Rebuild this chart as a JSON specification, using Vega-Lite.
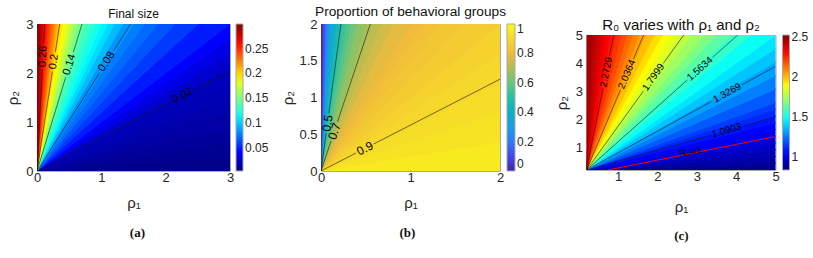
{
"$schema": "https://vega.github.io/schema/vega-lite/v6.json",
"padding": {"left": 5, "top": 4, "right": 0, "bottom": 0},
"spacing": 10,
"resolve": {"scale": {"color": "independent", "stroke": "independent"}, "legend": {"color": "independent", "stroke": "independent"}},
"config": {
  "font": "Liberation Sans",
  "view": {"stroke": "#a8a8a8", "strokeWidth": 1},
  "axis": {"domain": false, "ticks": false, "grid": false, "labelFontSize": 13, "labelColor": "#262626", "titleFontSize": 15, "titleFontWeight": "normal", "titleColor": "#262626", "labelFlush": false, "labelPadding": 4, "format": "~g"},
  "axisX": {"labelPadding": 0},
  "legend": {"gradientThickness": 7, "labelFontSize": 12, "labelColor": "#262626", "gradientStrokeColor": "#a8a8a8", "gradientStrokeWidth": 1, "padding": 0, "labelOffset": 3, "labelOverlap": false},
  "title": {"fontWeight": "normal", "color": "#111111", "anchor": "middle"}
},
"datasets": {
"wa": [
{"w":1,"x":0,"y":0,"y2":0,"v":0.0044},{"w":1,"x":10,"y":0,"y2":1,"v":0.0044},
{"w":2,"x":0,"y":0,"y2":0,"v":0.0072},{"w":2,"x":10,"y":1,"y2":2,"v":0.0072},
{"w":3,"x":0,"y":0,"y2":0,"v":0.0100},{"w":3,"x":10,"y":2,"y2":3,"v":0.0100},
{"w":4,"x":0,"y":0,"y2":0,"v":0.0126},{"w":4,"x":10,"y":3,"y2":4,"v":0.0126},
{"w":5,"x":0,"y":0,"y2":0,"v":0.0150},{"w":5,"x":10,"y":4,"y2":5,"v":0.0150},
{"w":6,"x":0,"y":0,"y2":0,"v":0.0173},{"w":6,"x":10,"y":5,"y2":6,"v":0.0173},
{"w":7,"x":0,"y":0,"y2":0,"v":0.0194},{"w":7,"x":10,"y":6,"y2":7,"v":0.0194},
{"w":8,"x":0,"y":0,"y2":0,"v":0.0254},{"w":8,"x":10,"y":7,"y2":8,"v":0.0254},
{"w":9,"x":0,"y":0,"y2":0,"v":0.0324},{"w":9,"x":10,"y":8,"y2":9,"v":0.0324},
{"w":10,"x":0,"y":0,"y2":0,"v":0.0387},{"w":10,"x":10,"y":9,"y2":10,"v":0.0387},
{"w":11,"x":0,"y":0,"y2":0,"v":0.0472},{"w":11,"x":10,"y":10,"y2":12,"v":0.0472},
{"w":12,"x":0,"y":0,"y2":0,"v":0.0566},{"w":12,"x":10,"y":12,"y2":14,"v":0.0566},
{"w":13,"x":0,"y":0,"y2":0,"v":0.0644},{"w":13,"x":10,"y":14,"y2":16,"v":0.0644},
{"w":14,"x":0,"y":0,"y2":0,"v":0.0708},{"w":14,"x":10,"y":16,"y2":18,"v":0.0708},
{"w":15,"x":0,"y":0,"y2":0,"v":0.0763},{"w":15,"x":10,"y":18,"y2":20,"v":0.0763},
{"w":16,"x":0,"y":0,"y2":0,"v":0.0833},{"w":16,"x":10,"y":20,"y2":22.5,"v":0.0833},
{"w":17,"x":0,"y":0,"y2":0,"v":0.0944},{"w":17,"x":10,"y":22.5,"y2":25,"v":0.0944},
{"w":18,"x":0,"y":0,"y2":0,"v":0.1037},{"w":18,"x":10,"y":25,"y2":27.5,"v":0.1037},
{"w":19,"x":0,"y":0,"y2":0,"v":0.1115},{"w":19,"x":10,"y":27.5,"y2":30,"v":0.1115},
{"w":20,"x":0,"y":0,"y2":0,"v":0.1189},{"w":20,"x":10,"y":30,"y2":33,"v":0.1189},
{"w":21,"x":0,"y":0,"y2":0,"v":0.1257},{"w":21,"x":10,"y":33,"y2":36,"v":0.1257},
{"w":22,"x":0,"y":0,"y2":0,"v":0.1323},{"w":22,"x":10,"y":36,"y2":40,"v":0.1323},
{"w":23,"x":0,"y":0,"y2":0,"v":0.1386},{"w":23,"x":10,"y":40,"y2":44,"v":0.1386},
{"w":24,"x":0,"y":0,"y2":0,"v":0.1479},{"w":24,"x":10,"y":44,"y2":48,"v":0.1479},
{"w":25,"x":0,"y":0,"y2":0,"v":0.1578},{"w":25,"x":10,"y":48,"y2":53,"v":0.1578},
{"w":26,"x":0,"y":0,"y2":0,"v":0.1671},{"w":26,"x":10,"y":53,"y2":58,"v":0.1671},
{"w":27,"x":0,"y":0,"y2":0,"v":0.1755},{"w":27,"x":10,"y":58,"y2":64,"v":0.1755},
{"w":28,"x":0,"y":0,"y2":0,"v":0.1832},{"w":28,"x":10,"y":64,"y2":70,"v":0.1832},
{"w":29,"x":0,"y":0,"y2":0,"v":0.1902},{"w":29,"x":10,"y":70,"y2":77,"v":0.1902},
{"w":30,"x":0,"y":0,"y2":0,"v":0.1968},{"w":30,"x":10,"y":77,"y2":85,"v":0.1968},
{"w":31,"x":0,"y":0,"y2":0,"v":0.2049},{"w":31,"x":10,"y":85,"y2":95,"v":0.2049},
{"w":32,"x":0,"y":0,"y2":0,"v":0.2135},{"w":32,"x":10,"y":95,"y2":105,"v":0.2135},
{"w":33,"x":0,"y":0,"y2":0,"v":0.2221},{"w":33,"x":10,"y":105,"y2":120,"v":0.2221},
{"w":34,"x":0,"y":0,"y2":0,"v":0.2314},{"w":34,"x":10,"y":120,"y2":140,"v":0.2314},
{"w":35,"x":0,"y":0,"y2":0,"v":0.2394},{"w":35,"x":10,"y":140,"y2":160,"v":0.2394},
{"w":36,"x":0,"y":0,"y2":0,"v":0.2468},{"w":36,"x":10,"y":160,"y2":190,"v":0.2468},
{"w":37,"x":0,"y":0,"y2":0,"v":0.2541},{"w":37,"x":10,"y":190,"y2":230,"v":0.2541},
{"w":38,"x":0,"y":0,"y2":0,"v":0.2609},{"w":38,"x":10,"y":230,"y2":280,"v":0.2609},
{"w":39,"x":0,"y":0,"y2":0,"v":0.2684},{"w":39,"x":10,"y":280,"y2":350,"v":0.2684},
{"w":40,"x":0,"y":0,"y2":0,"v":0.2764},{"w":40,"x":10,"y":350,"y2":500,"v":0.2764},
{"w":41,"x":0,"y":0,"y2":0,"v":0.2842},{"w":41,"x":10,"y":500,"y2":800,"v":0.2842},
{"w":42,"x":0,"y":0,"y2":0,"v":0.2944},{"w":42,"x":10,"y":800,"y2":10000,"v":0.2944}
],
"la": [
{"p":"a26a","x":0,"y":0},{"p":"a26a","x":0.083,"y":2.074},
{"p":"a26b","x":0.104,"y":2.606},{"p":"a26b","x":0.12,"y":3},
{"p":"a20a","x":0,"y":0},{"p":"a20a","x":0.2386,"y":2.0275},
{"p":"a20b","x":0.2862,"y":2.4325},{"p":"a20b","x":0.3529,"y":3},
{"p":"a14a","x":0,"y":0},{"p":"a14a","x":0.4464,"y":1.915},
{"p":"a14b","x":0.5652,"y":2.425},{"p":"a14b","x":0.6993,"y":3},
{"p":"a08a","x":0,"y":0},{"p":"a08a","x":0.9735,"y":2.0055},
{"p":"a08b","x":1.1915,"y":2.4545},{"p":"a08b","x":1.4563,"y":3},
{"p":"a02a","x":0,"y":0},{"p":"a02a","x":2.08,"y":1.414},
{"p":"a02b","x":2.44,"y":1.659},{"p":"a02b","x":3,"y":2.04}
],
"wb": [
{"w":1,"x":0,"y":0,"y2":0,"v":0.951},{"w":1,"x":10,"y":0,"y2":2,"v":0.951},
{"w":2,"x":0,"y":0,"y2":0,"v":0.932},{"w":2,"x":10,"y":2,"y2":4,"v":0.932},
{"w":3,"x":0,"y":0,"y2":0,"v":0.914},{"w":3,"x":10,"y":4,"y2":6,"v":0.914},
{"w":4,"x":0,"y":0,"y2":0,"v":0.897},{"w":4,"x":10,"y":6,"y2":8,"v":0.897},
{"w":5,"x":0,"y":0,"y2":0,"v":0.880},{"w":5,"x":10,"y":8,"y2":10,"v":0.880},
{"w":6,"x":0,"y":0,"y2":0,"v":0.861},{"w":6,"x":10,"y":10,"y2":12.5,"v":0.861},
{"w":7,"x":0,"y":0,"y2":0,"v":0.842},{"w":7,"x":10,"y":12.5,"y2":15,"v":0.842},
{"w":8,"x":0,"y":0,"y2":0,"v":0.823},{"w":8,"x":10,"y":15,"y2":17.5,"v":0.823},
{"w":9,"x":0,"y":0,"y2":0,"v":0.806},{"w":9,"x":10,"y":17.5,"y2":20,"v":0.806},
{"w":10,"x":0,"y":0,"y2":0,"v":0.781},{"w":10,"x":10,"y":20,"y2":25,"v":0.781},
{"w":11,"x":0,"y":0,"y2":0,"v":0.749},{"w":11,"x":10,"y":25,"y2":30,"v":0.749},
{"w":12,"x":0,"y":0,"y2":0,"v":0.720},{"w":12,"x":10,"y":30,"y2":35,"v":0.720},
{"w":13,"x":0,"y":0,"y2":0,"v":0.694},{"w":13,"x":10,"y":35,"y2":40,"v":0.694},
{"w":14,"x":0,"y":0,"y2":0,"v":0.657},{"w":14,"x":10,"y":40,"y2":50,"v":0.657},
{"w":15,"x":0,"y":0,"y2":0,"v":0.614},{"w":15,"x":10,"y":50,"y2":60,"v":0.614},
{"w":16,"x":0,"y":0,"y2":0,"v":0.576},{"w":16,"x":10,"y":60,"y2":70,"v":0.576},
{"w":17,"x":0,"y":0,"y2":0,"v":0.543},{"w":17,"x":10,"y":70,"y2":80,"v":0.543},
{"w":18,"x":0,"y":0,"y2":0,"v":0.513},{"w":18,"x":10,"y":80,"y2":90,"v":0.513},
{"w":19,"x":0,"y":0,"y2":0,"v":0.486},{"w":19,"x":10,"y":90,"y2":100,"v":0.486},
{"w":20,"x":0,"y":0,"y2":0,"v":0.451},{"w":20,"x":10,"y":100,"y2":120,"v":0.451},
{"w":21,"x":0,"y":0,"y2":0,"v":0.411},{"w":21,"x":10,"y":120,"y2":140,"v":0.411},
{"w":22,"x":0,"y":0,"y2":0,"v":0.378},{"w":22,"x":10,"y":140,"y2":160,"v":0.378},
{"w":23,"x":0,"y":0,"y2":0,"v":0.350},{"w":23,"x":10,"y":160,"y2":180,"v":0.350},
{"w":24,"x":0,"y":0,"y2":0,"v":0.320},{"w":24,"x":10,"y":180,"y2":210,"v":0.320},
{"w":25,"x":0,"y":0,"y2":0,"v":0.286},{"w":25,"x":10,"y":210,"y2":250,"v":0.286},
{"w":26,"x":0,"y":0,"y2":0,"v":0.251},{"w":26,"x":10,"y":250,"y2":300,"v":0.251},
{"w":27,"x":0,"y":0,"y2":0,"v":0.219},{"w":27,"x":10,"y":300,"y2":360,"v":0.219},
{"w":28,"x":0,"y":0,"y2":0,"v":0.186},{"w":28,"x":10,"y":360,"y2":450,"v":0.186},
{"w":29,"x":0,"y":0,"y2":0,"v":0.150},{"w":29,"x":10,"y":450,"y2":600,"v":0.150},
{"w":30,"x":0,"y":0,"y2":0,"v":0.117},{"w":30,"x":10,"y":600,"y2":800,"v":0.117},
{"w":31,"x":0,"y":0,"y2":0,"v":0.085},{"w":31,"x":10,"y":800,"y2":1200,"v":0.085},
{"w":32,"x":0,"y":0,"y2":0,"v":0.055},{"w":32,"x":10,"y":1200,"y2":2000,"v":0.055},
{"w":33,"x":0,"y":0,"y2":0,"v":0.030},{"w":33,"x":10,"y":2000,"y2":10000,"v":0.030}
],
"lb": [
{"p":"b5a","x":0,"y":0},{"p":"b5a","x":0.0573,"y":0.514},
{"p":"b5b","x":0.0876,"y":0.786},{"p":"b5b","x":0.223,"y":2},
{"p":"b7a","x":0,"y":0},{"p":"b7a","x":0.1131,"y":0.4105},
{"p":"b7b","x":0.1845,"y":0.6695},{"p":"b7b","x":0.551,"y":2},
{"p":"b9a","x":0,"y":0},{"p":"b9a","x":0.3907,"y":0.244},
{"p":"b9b","x":0.5893,"y":0.368},{"p":"b9b","x":2,"y":1.249}
],
"wc": [
{"w":1,"x":0.2,"y":0.2,"y2":0.2,"v":0.861},{"w":1,"x":10.2,"y":0.2,"y2":0.7,"v":0.861},
{"w":2,"x":0.2,"y":0.2,"y2":0.2,"v":0.892},{"w":2,"x":10.2,"y":0.7,"y2":1.2,"v":0.892},
{"w":3,"x":0.2,"y":0.2,"y2":0.2,"v":0.924},{"w":3,"x":10.2,"y":1.2,"y2":1.7,"v":0.924},
{"w":4,"x":0.2,"y":0.2,"y2":0.2,"v":0.955},{"w":4,"x":10.2,"y":1.7,"y2":2.2,"v":0.955},
{"w":5,"x":0.2,"y":0.2,"y2":0.2,"v":0.985},{"w":5,"x":10.2,"y":2.2,"y2":2.7,"v":0.985},
{"w":6,"x":0.2,"y":0.2,"y2":0.2,"v":1.016},{"w":6,"x":10.2,"y":2.7,"y2":3.2,"v":1.016},
{"w":7,"x":0.2,"y":0.2,"y2":0.2,"v":1.048},{"w":7,"x":10.2,"y":3.2,"y2":3.7,"v":1.048},
{"w":8,"x":0.2,"y":0.2,"y2":0.2,"v":1.079},{"w":8,"x":10.2,"y":3.7,"y2":4.2,"v":1.079},
{"w":9,"x":0.2,"y":0.2,"y2":0.2,"v":1.113},{"w":9,"x":10.2,"y":4.2,"y2":4.7,"v":1.113},
{"w":10,"x":0.2,"y":0.2,"y2":0.2,"v":1.148},{"w":10,"x":10.2,"y":4.7,"y2":5.2,"v":1.148},
{"w":11,"x":0.2,"y":0.2,"y2":0.2,"v":1.198},{"w":11,"x":10.2,"y":5.2,"y2":6.2,"v":1.198},
{"w":12,"x":0.2,"y":0.2,"y2":0.2,"v":1.261},{"w":12,"x":10.2,"y":6.2,"y2":7.2,"v":1.261},
{"w":13,"x":0.2,"y":0.2,"y2":0.2,"v":1.318},{"w":13,"x":10.2,"y":7.2,"y2":8.2,"v":1.318},
{"w":14,"x":0.2,"y":0.2,"y2":0.2,"v":1.376},{"w":14,"x":10.2,"y":8.2,"y2":9.2,"v":1.376},
{"w":15,"x":0.2,"y":0.2,"y2":0.2,"v":1.430},{"w":15,"x":10.2,"y":9.2,"y2":10.2,"v":1.430},
{"w":16,"x":0.2,"y":0.2,"y2":0.2,"v":1.490},{"w":16,"x":10.2,"y":10.2,"y2":11.7,"v":1.490},
{"w":17,"x":0.2,"y":0.2,"y2":0.2,"v":1.554},{"w":17,"x":10.2,"y":11.7,"y2":13.2,"v":1.554},
{"w":18,"x":0.2,"y":0.2,"y2":0.2,"v":1.618},{"w":18,"x":10.2,"y":13.2,"y2":14.7,"v":1.618},
{"w":19,"x":0.2,"y":0.2,"y2":0.2,"v":1.675},{"w":19,"x":10.2,"y":14.7,"y2":16.2,"v":1.675},
{"w":20,"x":0.2,"y":0.2,"y2":0.2,"v":1.733},{"w":20,"x":10.2,"y":16.2,"y2":18.2,"v":1.733},
{"w":21,"x":0.2,"y":0.2,"y2":0.2,"v":1.789},{"w":21,"x":10.2,"y":18.2,"y2":20.2,"v":1.789},
{"w":22,"x":0.2,"y":0.2,"y2":0.2,"v":1.846},{"w":22,"x":10.2,"y":20.2,"y2":22.7,"v":1.846},
{"w":23,"x":0.2,"y":0.2,"y2":0.2,"v":1.900},{"w":23,"x":10.2,"y":22.7,"y2":25.2,"v":1.900},
{"w":24,"x":0.2,"y":0.2,"y2":0.2,"v":1.949},{"w":24,"x":10.2,"y":25.2,"y2":28.2,"v":1.949},
{"w":25,"x":0.2,"y":0.2,"y2":0.2,"v":2.000},{"w":25,"x":10.2,"y":28.2,"y2":32.2,"v":2.000},
{"w":26,"x":0.2,"y":0.2,"y2":0.2,"v":2.048},{"w":26,"x":10.2,"y":32.2,"y2":36.2,"v":2.048},
{"w":27,"x":0.2,"y":0.2,"y2":0.2,"v":2.098},{"w":27,"x":10.2,"y":36.2,"y2":41.2,"v":2.098},
{"w":28,"x":0.2,"y":0.2,"y2":0.2,"v":2.146},{"w":28,"x":10.2,"y":41.2,"y2":47.2,"v":2.146},
{"w":29,"x":0.2,"y":0.2,"y2":0.2,"v":2.193},{"w":29,"x":10.2,"y":47.2,"y2":55.2,"v":2.193},
{"w":30,"x":0.2,"y":0.2,"y2":0.2,"v":2.237},{"w":30,"x":10.2,"y":55.2,"y2":65.2,"v":2.237},
{"w":31,"x":0.2,"y":0.2,"y2":0.2,"v":2.281},{"w":31,"x":10.2,"y":65.2,"y2":80.2,"v":2.281},
{"w":32,"x":0.2,"y":0.2,"y2":0.2,"v":2.322},{"w":32,"x":10.2,"y":80.2,"y2":100.2,"v":2.322},
{"w":33,"x":0.2,"y":0.2,"y2":0.2,"v":2.359},{"w":33,"x":10.2,"y":100.2,"y2":130.2,"v":2.359},
{"w":34,"x":0.2,"y":0.2,"y2":0.2,"v":2.393},{"w":34,"x":10.2,"y":130.2,"y2":180.2,"v":2.393},
{"w":35,"x":0.2,"y":0.2,"y2":0.2,"v":2.428},{"w":35,"x":10.2,"y":180.2,"y2":300.2,"v":2.428},
{"w":36,"x":0.2,"y":0.2,"y2":0.2,"v":2.466},{"w":36,"x":10.2,"y":300.2,"y2":10000,"v":2.466}
],
"lc": [
{"p":"c1a","x":0.2,"y":0.2},{"p":"c1a","x":0.615,"y":3.092},
{"p":"c1b","x":0.783,"y":4.268},{"p":"c1b","x":0.888,"y":5},
{"p":"c2a","x":0.2,"y":0.2},{"p":"c2a","x":1.06,"y":3.047},
{"p":"c2b","x":1.394,"y":4.153},{"p":"c2b","x":1.651,"y":5},
{"p":"c3a","x":0.2,"y":0.2},{"p":"c3a","x":1.647,"y":3.012},
{"p":"c3b","x":2.149,"y":3.988},{"p":"c3b","x":2.67,"y":5},
{"p":"c4a","x":0.2,"y":0.2},{"p":"c4a","x":2.759,"y":3.399},
{"p":"c4b","x":3.401,"y":4.201},{"p":"c4b","x":4.04,"y":5},
{"p":"c5a","x":0.2,"y":0.2},{"p":"c5a","x":3.391,"y":2.647},
{"p":"c5b","x":4.149,"y":3.229},{"p":"c5b","x":5,"y":3.882},
{"p":"c6a","x":0.2,"y":0.2},{"p":"c6a","x":3.34,"y":1.437},
{"p":"c6b","x":4.172,"y":1.765},{"p":"c6b","x":5,"y":2.091}
]
},
"hconcat": [
{
 "title": {"text": "(a)", "orient": "bottom", "font": "Liberation Serif", "fontWeight": "bold", "fontSize": 13, "offset": 16},
 "resolve": {"scale": {"color": "independent", "stroke": "independent"}, "legend": {"color": "independent", "stroke": "independent"}},
 "vconcat": [{
  "title": {"text": "Final size", "fontSize": 12, "offset": -3},
  "width": 193, "height": 147,
  "encoding": {
   "x": {"field": "x", "type": "quantitative", "scale": {"domain": [0, 3], "nice": false, "zero": false}, "axis": {"values": [0, 1, 2, 3], "title": "ρ₁", "titlePadding": 11}},
   "y": {"field": "y", "type": "quantitative", "stack": null, "scale": {"domain": [0, 3], "nice": false, "zero": false}, "axis": {"values": [0, 1, 2, 3], "title": "ρ₂", "titlePadding": 5}}
  },
  "layer": [
   {"data": {"name": "wa"}, "mark": {"type": "area", "clip": true, "strokeWidth": 1},
    "encoding": {
     "y2": {"field": "y2"},
     "detail": {"field": "w", "type": "nominal"},
     "color": {"field": "v", "type": "quantitative", "scale": {"domain": [0.0025, 0.3], "interpolate": "rgb", "range": ["#000083","#0000FF","#007FFF","#00FFFF","#7FFF7F","#FFFF00","#FF7F00","#FF0000","#7F0000"]}, "legend": {"type": "gradient", "title": null, "values": [0.05, 0.1, 0.15, 0.2, 0.25], "format": ".2~f", "gradientLength": 147, "offset": 6}},
     "stroke": {"field": "v", "type": "quantitative", "scale": {"domain": [0.00250001, 0.3], "interpolate": "rgb", "range": ["#000083","#0000FF","#007FFF","#00FFFF","#7FFF7F","#FFFF00","#FF7F00","#FF0000","#7F0000"]}, "legend": null}
    }},
   {"data": {"name": "la"}, "mark": {"type": "line", "clip": true, "color": "#1a1a1a", "strokeWidth": 0.6}, "encoding": {"detail": {"field": "p", "type": "nominal"}}},
   {"data": {"values": [{"x": 0.0936, "y": 2.34, "t": "0.26"}]}, "mark": {"type": "text", "angle": -87, "fontSize": 11, "color": "#000"}, "encoding": {"text": {"field": "t"}}},
   {"data": {"values": [{"x": 0.2624, "y": 2.23, "t": "0.2"}]}, "mark": {"type": "text", "angle": -81, "fontSize": 11, "color": "#000"}, "encoding": {"text": {"field": "t"}}},
   {"data": {"values": [{"x": 0.5058, "y": 2.17, "t": "0.14"}]}, "mark": {"type": "text", "angle": -73, "fontSize": 11, "color": "#000"}, "encoding": {"text": {"field": "t"}}},
   {"data": {"values": [{"x": 1.0825, "y": 2.23, "t": "0.08"}]}, "mark": {"type": "text", "angle": -57, "fontSize": 11, "color": "#000"}, "encoding": {"text": {"field": "t"}}},
   {"data": {"values": [{"x": 2.26, "y": 1.537, "t": "0.02"}]}, "mark": {"type": "text", "angle": -27, "fontSize": 11, "color": "#000"}, "encoding": {"text": {"field": "t"}}}
  ]
 }]
},
{
 "spacing": 18.5,
 "resolve": {"scale": {"color": "independent", "stroke": "independent"}, "legend": {"color": "independent", "stroke": "independent"}},
 "hconcat": [
 {
 "title": {"text": "(b)", "orient": "bottom", "font": "Liberation Serif", "fontWeight": "bold", "fontSize": 13, "offset": 16},
 "resolve": {"scale": {"color": "independent", "stroke": "independent"}, "legend": {"color": "independent", "stroke": "independent"}},
 "vconcat": [{
  "title": {"text": "Proportion of behavioral groups", "fontSize": 13.7, "offset": -1},
  "width": 179, "height": 147,
  "encoding": {
   "x": {"field": "x", "type": "quantitative", "scale": {"domain": [0, 2], "nice": false, "zero": false}, "axis": {"values": [0, 1, 2], "title": "ρ₁", "titlePadding": 11}},
   "y": {"field": "y", "type": "quantitative", "stack": null, "scale": {"domain": [0, 2], "nice": false, "zero": false}, "axis": {"values": [0, 0.5, 1, 1.5, 2], "title": "ρ₂", "titlePadding": 3}}
  },
  "layer": [
   {"data": {"name": "wb"}, "mark": {"type": "area", "clip": true, "strokeWidth": 1},
    "encoding": {
     "y2": {"field": "y2"},
     "detail": {"field": "w", "type": "nominal"},
     "color": {"field": "v", "type": "quantitative", "scale": {"domain": [0, 1], "interpolate": "rgb", "range": ["#3E26A8","#4745EA","#2F7CF5","#1A9DE1","#09B1C9","#27BFA5","#64C57D","#B0BE53","#F1BA3C","#F6D82A","#F9FB14"]}, "legend": {"type": "gradient", "title": null, "values": [0, 0.2, 0.4, 0.6, 0.8, 1], "format": ".1~f", "gradientLength": 147, "gradientThickness": 8, "offset": 6.5}},
     "stroke": {"field": "v", "type": "quantitative", "scale": {"domain": [0.00000001, 1], "interpolate": "rgb", "range": ["#3E26A8","#4745EA","#2F7CF5","#1A9DE1","#09B1C9","#27BFA5","#64C57D","#B0BE53","#F1BA3C","#F6D82A","#F9FB14"]}, "legend": null}
    }},
   {"data": {"name": "lb"}, "mark": {"type": "line", "clip": true, "color": "#1a1a1a", "strokeWidth": 0.6}, "encoding": {"detail": {"field": "p", "type": "nominal"}}},
   {"data": {"values": [{"x": 0.0725, "y": 0.65, "t": "0.5"}]}, "mark": {"type": "text", "angle": -82, "fontSize": 12, "color": "#000"}, "encoding": {"text": {"field": "t"}}},
   {"data": {"values": [{"x": 0.1488, "y": 0.54, "t": "0.7"}]}, "mark": {"type": "text", "angle": -71, "fontSize": 12, "color": "#000"}, "encoding": {"text": {"field": "t"}}},
   {"data": {"values": [{"x": 0.49, "y": 0.306, "t": "0.9"}]}, "mark": {"type": "text", "angle": -27, "fontSize": 12, "color": "#000"}, "encoding": {"text": {"field": "t"}}}
  ]
 }]
 },
 {
 "title": {"text": "(c)", "orient": "bottom", "font": "Liberation Serif", "fontWeight": "bold", "fontSize": 13, "offset": 15},
 "resolve": {"scale": {"color": "independent", "stroke": "independent"}, "legend": {"color": "independent", "stroke": "independent"}},
 "bounds": "flush",
 "spacing": 10,
 "vconcat": [
 {
  "title": {"text": "R₀ varies with ρ₁ and ρ₂", "fontSize": 15, "offset": -9},
  "width": 189, "height": 1,
  "view": {"stroke": null},
  "data": {"values": []},
  "mark": {"type": "point", "opacity": 0}
 },
 {
  "width": 189, "height": 135,
  "encoding": {
   "x": {"field": "x", "type": "quantitative", "scale": {"domain": [0.2, 5], "nice": false, "zero": false}, "axis": {"values": [1, 2, 3, 4, 5], "title": "ρ₁", "titlePadding": 16}},
   "y": {"field": "y", "type": "quantitative", "stack": null, "scale": {"domain": [0.2, 5], "nice": false, "zero": false}, "axis": {"values": [1, 2, 3, 4, 5], "title": "ρ₂", "titlePadding": 6}}
  },
  "layer": [
   {"data": {"name": "wc"}, "mark": {"type": "area", "clip": true, "strokeWidth": 1},
    "encoding": {
     "y2": {"field": "y2"},
     "detail": {"field": "w", "type": "nominal"},
     "color": {"field": "v", "type": "quantitative", "scale": {"domain": [0.836, 2.53], "interpolate": "rgb", "range": ["#000083","#0000FF","#007FFF","#00FFFF","#7FFF7F","#FFFF00","#FF7F00","#FF0000","#7F0000"]}, "legend": {"type": "gradient", "title": null, "values": [1, 1.5, 2, 2.5], "format": ".1~f", "gradientLength": 135, "offset": 7}},
     "stroke": {"field": "v", "type": "quantitative", "scale": {"domain": [0.83600001, 2.53], "interpolate": "rgb", "range": ["#000083","#0000FF","#007FFF","#00FFFF","#7FFF7F","#FFFF00","#FF7F00","#FF0000","#7F0000"]}, "legend": null}
    }},
   {"data": {"name": "lc"}, "mark": {"type": "line", "clip": true, "color": "#1a1a1a", "strokeWidth": 0.6}, "encoding": {"detail": {"field": "p", "type": "nominal"}}},
   {"data": {"values": [{"x": 0.745, "y": 0.2}, {"x": 5, "y": 1.39}]}, "mark": {"type": "line", "clip": true, "color": "#ff0000", "strokeWidth": 1}, "encoding": {}},
   {"data": {"values": [{"x": 0.699, "y": 3.68, "t": "2.2729"}]}, "mark": {"type": "text", "angle": -79, "fontSize": 10, "color": "#000"}, "encoding": {"text": {"field": "t"}}},
   {"data": {"values": [{"x": 1.227, "y": 3.6, "t": "2.0364"}]}, "mark": {"type": "text", "angle": -67, "fontSize": 10, "color": "#000"}, "encoding": {"text": {"field": "t"}}},
   {"data": {"values": [{"x": 1.898, "y": 3.5, "t": "1.7999"}]}, "mark": {"type": "text", "angle": -54.5, "fontSize": 10, "color": "#000"}, "encoding": {"text": {"field": "t"}}},
   {"data": {"values": [{"x": 3.08, "y": 3.8, "t": "1.5634"}]}, "mark": {"type": "text", "angle": -42, "fontSize": 10, "color": "#000"}, "encoding": {"text": {"field": "t"}}},
   {"data": {"values": [{"x": 3.77, "y": 2.938, "t": "1.3269"}]}, "mark": {"type": "text", "angle": -29, "fontSize": 10, "color": "#000"}, "encoding": {"text": {"field": "t"}}},
   {"data": {"values": [{"x": 3.756, "y": 1.601, "t": "1.0903"}]}, "mark": {"type": "text", "angle": -16, "fontSize": 10, "color": "#000"}, "encoding": {"text": {"field": "t"}}},
   {"data": {"values": [{"x": 2.84, "y": 0.84, "t": "R₀=1"}]}, "mark": {"type": "text", "angle": -11, "fontSize": 10, "color": "#000"}, "encoding": {"text": {"field": "t"}}}
  ]
 }]
 }
 ]
}
]
}
